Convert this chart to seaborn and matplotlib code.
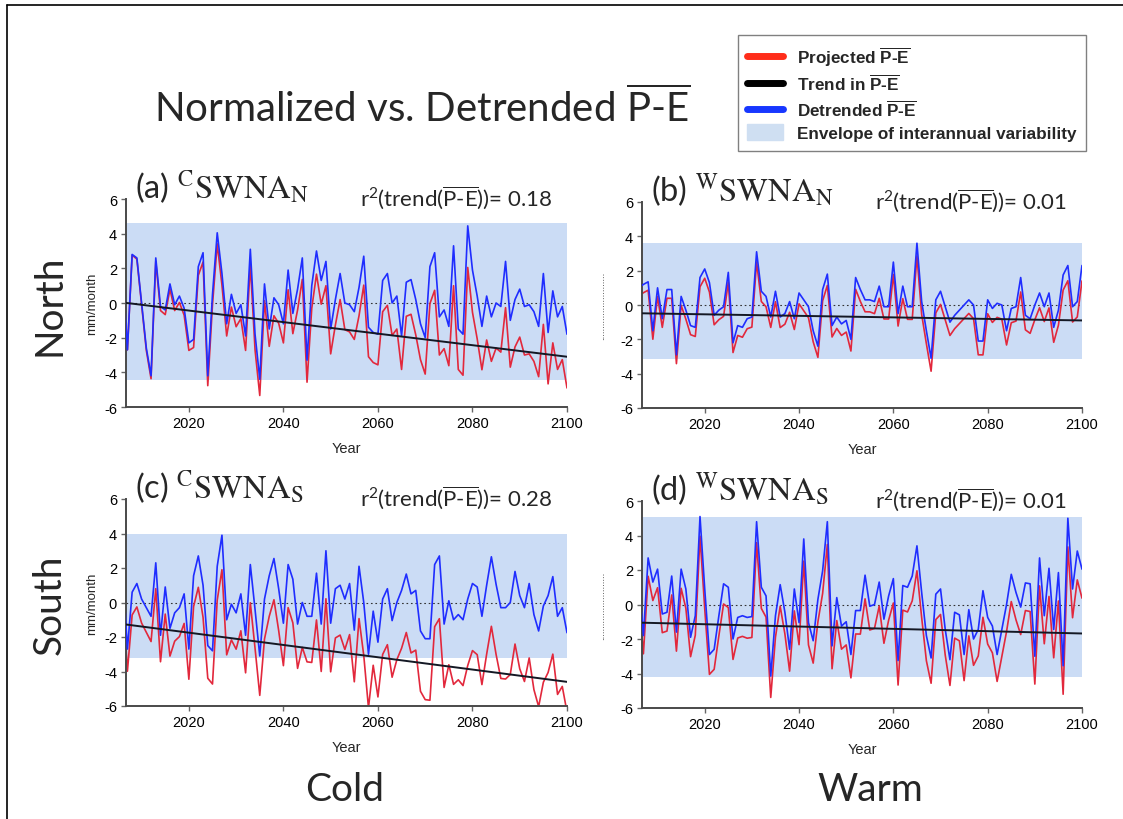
import numpy as np
import pandas as pd
import seaborn as sns
import matplotlib
matplotlib.use("Agg")
import matplotlib.pyplot as plt
from matplotlib.lines import Line2D
from matplotlib.patches import Patch

# ---------------- data ----------------
years = list(range(2006, 2101))

# Detrended P-E (blue), mm/month
det_a = [1.9, -2.7, 2.8, 2.6, 0.0, -2.6, -4.2, 2.6, -0.2, -0.4,
         1.1, -0.1, 0.4, -0.3, -2.3, -2.1, 2.1, 2.9, -4.2, 0.5,
         4.05, 1.7, -1.2, 0.5, -0.6, -0.1, -1.9, 3.1, -1.8, -4.4,
         1.1, -1.5, 0.3, -0.1, -1.2, 1.9, -0.6, 0.8, 2.6, -3.3,
         1.0, 3.0, 1.3, 2.4, -1.5, 0.2, 1.7, 0.0, -0.1, -0.5,
         0.9, 2.7, -1.4, -1.7, -1.8, 1.3, 1.7, 0.0, 0.4, -1.9,
         1.2, 1.35, 0.2, -1.2, -2.0, 2.1, 2.9, -0.8, -0.4, -1.35,
         3.3, -1.5, -1.8, 4.45, 1.9, 0.4, -1.35, 0.4, -0.8, 0.0,
         -0.2, 2.4, -1.0, 0.2, 0.8, -0.2, -0.1, -0.5, -1.35, 1.7,
         -1.7, 0.7, -0.8, -0.2, -1.8]
det_b = [1.0, 1.2, 1.35, -1.5, 1.0, -0.8, 0.9, 0.9, -2.9, 0.5,
         -0.3, -1.2, -1.3, 1.6, 2.1, 1.3, -0.6, -0.3, -0.1, 1.9,
         -2.2, -1.2, -1.3, -0.8, -0.7, 3.1, 0.8, 0.5, -0.7, 0.8,
         -0.7, -0.5, 0.2, -0.8, 0.7, 0.3, -0.1, -1.5, -2.4, 0.9,
         1.8, -1.2, -0.7, -1.1, -0.9, -2.0, 1.6, 0.9, 0.3, 0.3,
         0.2, 1.1, -0.1, -0.1, 2.5, -0.5, 1.1, -0.1, -0.1, 3.6,
         0.2, -1.5, -3.1, 0.3, 0.8, -0.1, -1.0, -0.6, -0.3, 0.0,
         0.3, 0.0, -2.1, -2.1, 0.3, -0.2, 0.1, 0.0, -1.5, -0.2,
         -0.1, 1.6, -0.6, -0.8, 0.0, 0.7, -0.1, 0.7, -1.3, -0.3,
         1.75, 2.3, -0.1, 0.2, 2.3]
det_c = [1.9, -2.7, 0.6, 1.1, 0.2, -0.3, -0.8, 2.3, -1.9, 0.9,
         -1.5, -0.6, -0.3, 0.5, -2.7, 1.55, 2.7, 1.0, -2.5, -2.8,
         2.1, 3.9, -1.0, -0.1, -0.6, 0.5, -1.9, 2.2, -0.4, -3.1,
         0.2, 1.55, 2.55, 0.8, -1.2, 2.2, 1.35, -1.25, 0.0, -0.8,
         -0.8, 1.7, -1.25, 3.0, -1.2, 0.8, 1.0, 0.2, 1.1, -1.6,
         2.1, 0.0, -3.0, -0.5, -2.3, 0.2, 0.8, -1.05, 0.0, 0.7,
         1.65, 0.5, 0.7, -1.65, -2.1, -2.1, 2.2, 2.7, -1.25, 0.1,
         -1.0, -0.7, -1.0, 0.2, 1.1, 0.9, -0.8, 1.0, 2.65, 1.05,
         -0.3, -0.3, 0.0, 1.8, 0.4, -0.3, 1.1, -0.7, -1.65, -0.2,
         0.4, 1.5, -0.8, -0.3, -1.75]
det_d = [1.5, -1.8, 2.7, 1.3, 2.05, -0.55, -0.45, 1.65, -1.6, 2.05,
         0.9, -1.9, -0.65, 5.1, 0.9, -2.9, -2.6, -0.65, 1.2, 1.0,
         -2.0, -0.75, -0.65, -0.75, -0.7, 4.8, 1.0, 0.5, -4.15, -0.65,
         1.15, -0.45, -2.6, 0.9, -1.05, 3.8, -1.05, -2.1, 0.3, 1.95,
         4.8, -2.4, 0.4, -1.25, -1.0, -2.9, -0.35, -0.35, 1.7, -0.1,
         0.0, 1.3, -0.85, 0.5, 1.5, -3.25, 1.1, 1.0, 1.65, 3.4,
         0.7, -1.8, -3.1, 0.6, 0.9, -1.45, -3.2, -0.45, -0.6, -2.9,
         -0.3, -2.0, -1.45, 0.8, -0.75, -1.25, -2.9, -1.45, 0.0, 1.75,
         0.7, -0.15, 1.25, 1.2, -3.0, 2.7, -0.65, 2.1, -1.45, 1.85,
         -3.55, 5.0, 0.9, 3.1, 2.05]

# Linear trend in P-E: value at 2006 and at 2100
trend_a = [0.03, -3.10]
trend_b = [-0.48, -0.90]
trend_c = [-1.25, -4.60]
trend_d = [-1.05, -1.68]

# Envelope of interannual variability (low, high)
env_a = [-4.43, 4.60]
env_b = [-3.14, 3.60]
env_c = [-3.19, 4.00]
env_d = [-4.19, 5.10]

r2_vals = ["0.18", "0.01", "0.28", "0.01"]
panel_ids = ["(a)", "(b)", "(c)", "(d)"]
panel_sup = ["C", "W", "C", "W"]
panel_sub = ["N", "N", "S", "S"]
xtick_years = [2020, 2040, 2060, 2080, 2100]
ytick_vals = [-6, -4, -2, 0, 2, 4, 6]
row_labels = ["North", "South"]
col_labels = ["Cold", "Warm"]
legend_labels = [r"Projected $\overline{\mathbf{P‐E}}$",
                 r"Trend in $\overline{\mathbf{P‐E}}$",
                 r"Detrended $\overline{\mathbf{P‐E}}$",
                 "Envelope of interannual variability"]

# ---------------- style ----------------
sns.set_style("ticks")
plt.rcParams["font.family"] = ["Liberation Sans", "DejaVu Sans"]
plt.rcParams["axes.unicode_minus"] = False
plt.rcParams["mathtext.fontset"] = "custom"
plt.rcParams["mathtext.rm"] = "Lato"
plt.rcParams["mathtext.it"] = "Lato:italic"
plt.rcParams["mathtext.bf"] = "Liberation Sans:bold"

RED = "#e2283c"
BLUE = "#1f2dff"
BLACK = "#141824"
ENV = "#cbdcf5"
SPINE = "#4a4a4a"

W, H = 1123, 820
fig = plt.figure(figsize=(W / 100, H / 100), dpi=100)
fig.patch.set_facecolor("white")

def fpos(l, t, r, b):
    return [l / W, 1 - b / H, (r - l) / W, (b - t) / H]

positions = [fpos(126, 200, 567, 408), fpos(642, 203, 1082, 409),
             fpos(126, 500, 567, 707), fpos(642, 502, 1082, 709)]

dets = [det_a, det_b, det_c, det_d]
trends = [trend_a, trend_b, trend_c, trend_d]
envs = [env_a, env_b, env_c, env_d]

for i in range(4):
    ax = fig.add_axes(positions[i])
    yrs = np.array(years, dtype=float)
    det = np.array(dets[i])
    tr = np.interp(yrs, [years[0], years[-1]], trends[i])
    proj = det + tr
    lo = np.full_like(yrs, envs[i][0])
    hi = np.full_like(yrs, envs[i][1])
    ax.fill_between(yrs, lo, hi, color=ENV, lw=0, zorder=0)
    ax.axhline(0, color="#333333", lw=0.8, ls=(0, (1.5, 2.5)), zorder=1)
    df = pd.DataFrame({"Year": yrs, "proj": proj, "det": det, "trend": tr})
    sns.lineplot(data=df, x="Year", y="proj", ax=ax, color=RED, lw=1.2, zorder=2)
    sns.lineplot(data=df, x="Year", y="det", ax=ax, color=BLUE, lw=1.2, zorder=3)
    sns.lineplot(data=df, x="Year", y="trend", ax=ax, color=BLACK, lw=1.4, zorder=4)

    ax.set_xlim(2006.7, 2100)
    ax.set_ylim(-6, 6)
    ax.set_xticks(xtick_years)
    ax.set_yticks(ytick_vals)
    ax.set_yticklabels([str(v) for v in ytick_vals])
    for s in ["top", "right"]:
        ax.spines[s].set_visible(False)
    for s in ["left", "bottom"]:
        ax.spines[s].set_color(SPINE)
        ax.spines[s].set_linewidth(1.4)
    ax.tick_params(axis="both", direction="out", length=3.5, width=1,
                   color="#666666", labelsize=10.5, labelcolor="black", pad=3)
    ax.set_xlabel("Year", fontsize=10.5, labelpad=8)
    if i % 2 == 0:
        ax.set_ylabel("mm/month", fontsize=9.5, labelpad=4)
    else:
        ax.set_ylabel("." * 26, fontsize=7, labelpad=10)
    ax.set_facecolor("white")

    ax.text(0.02, 1.062,
            panel_ids[i] + r" $^{\mathrm{" + panel_sup[i] + r"}}\mathrm{SWNA}_{\mathrm{" + panel_sub[i] + r"}}$",
            transform=ax.transAxes, fontsize=23.5, family="Lato",
            math_fontfamily="stix", ha="left", va="center")
    ax.text(0.966, 1.01,
            r"r$^2$(trend($\overline{\text{P-E}}$))= " + r2_vals[i],
            transform=ax.transAxes, fontsize=16, family="Lato",
            ha="right", va="center")

# row / column labels and title
fig.text(50 / W, 1 - 305 / H, row_labels[0], rotation=90, family="Lato",
         fontsize=28, ha="center", va="center")
fig.text(50 / W, 1 - 605 / H, row_labels[1], rotation=90, family="Lato",
         fontsize=28, ha="center", va="center")
fig.text(345 / W, 1 - 790 / H, col_labels[0], family="Lato", fontsize=28,
         ha="center", va="center")
fig.text(870 / W, 1 - 790 / H, col_labels[1], family="Lato", fontsize=28,
         ha="center", va="center")
fig.text(422 / W, 1 - 108 / H, r"Normalized vs. Detrended $\overline{\text{P-E}}$",
         family="Lato", fontsize=29, ha="center", va="center")

# legend
handles = [Line2D([], [], color="#ff2d1a", lw=5),
           Line2D([], [], color="black", lw=5),
           Line2D([], [], color="#1737ff", lw=5),
           Patch(facecolor="#cfdff2", edgecolor="#cfdff2")]
leg = fig.legend(handles, legend_labels, loc="upper left",
                 bbox_to_anchor=(738 / W, 1 - 36 / H), borderaxespad=0,
                 frameon=True, fancybox=False, edgecolor="#808080", framealpha=1,
                 prop={"family": "Liberation Sans", "weight": "bold", "size": 12.3},
                 handlelength=2.1, handleheight=1.05, labelspacing=0.32,
                 borderpad=0.55, handletextpad=0.8)
leg.get_frame().set_linewidth(1.0)

# slide frame (left and top edges)
fig.add_artist(Line2D([7 / W, 7 / W], [0, 1 - 6 / H], color="black", lw=1.2,
                      transform=fig.transFigure))
fig.add_artist(Line2D([7 / W, 1], [1 - 6 / H, 1 - 6 / H], color="black", lw=1.2,
                      transform=fig.transFigure))

fig.savefig("out.png", dpi=100)
